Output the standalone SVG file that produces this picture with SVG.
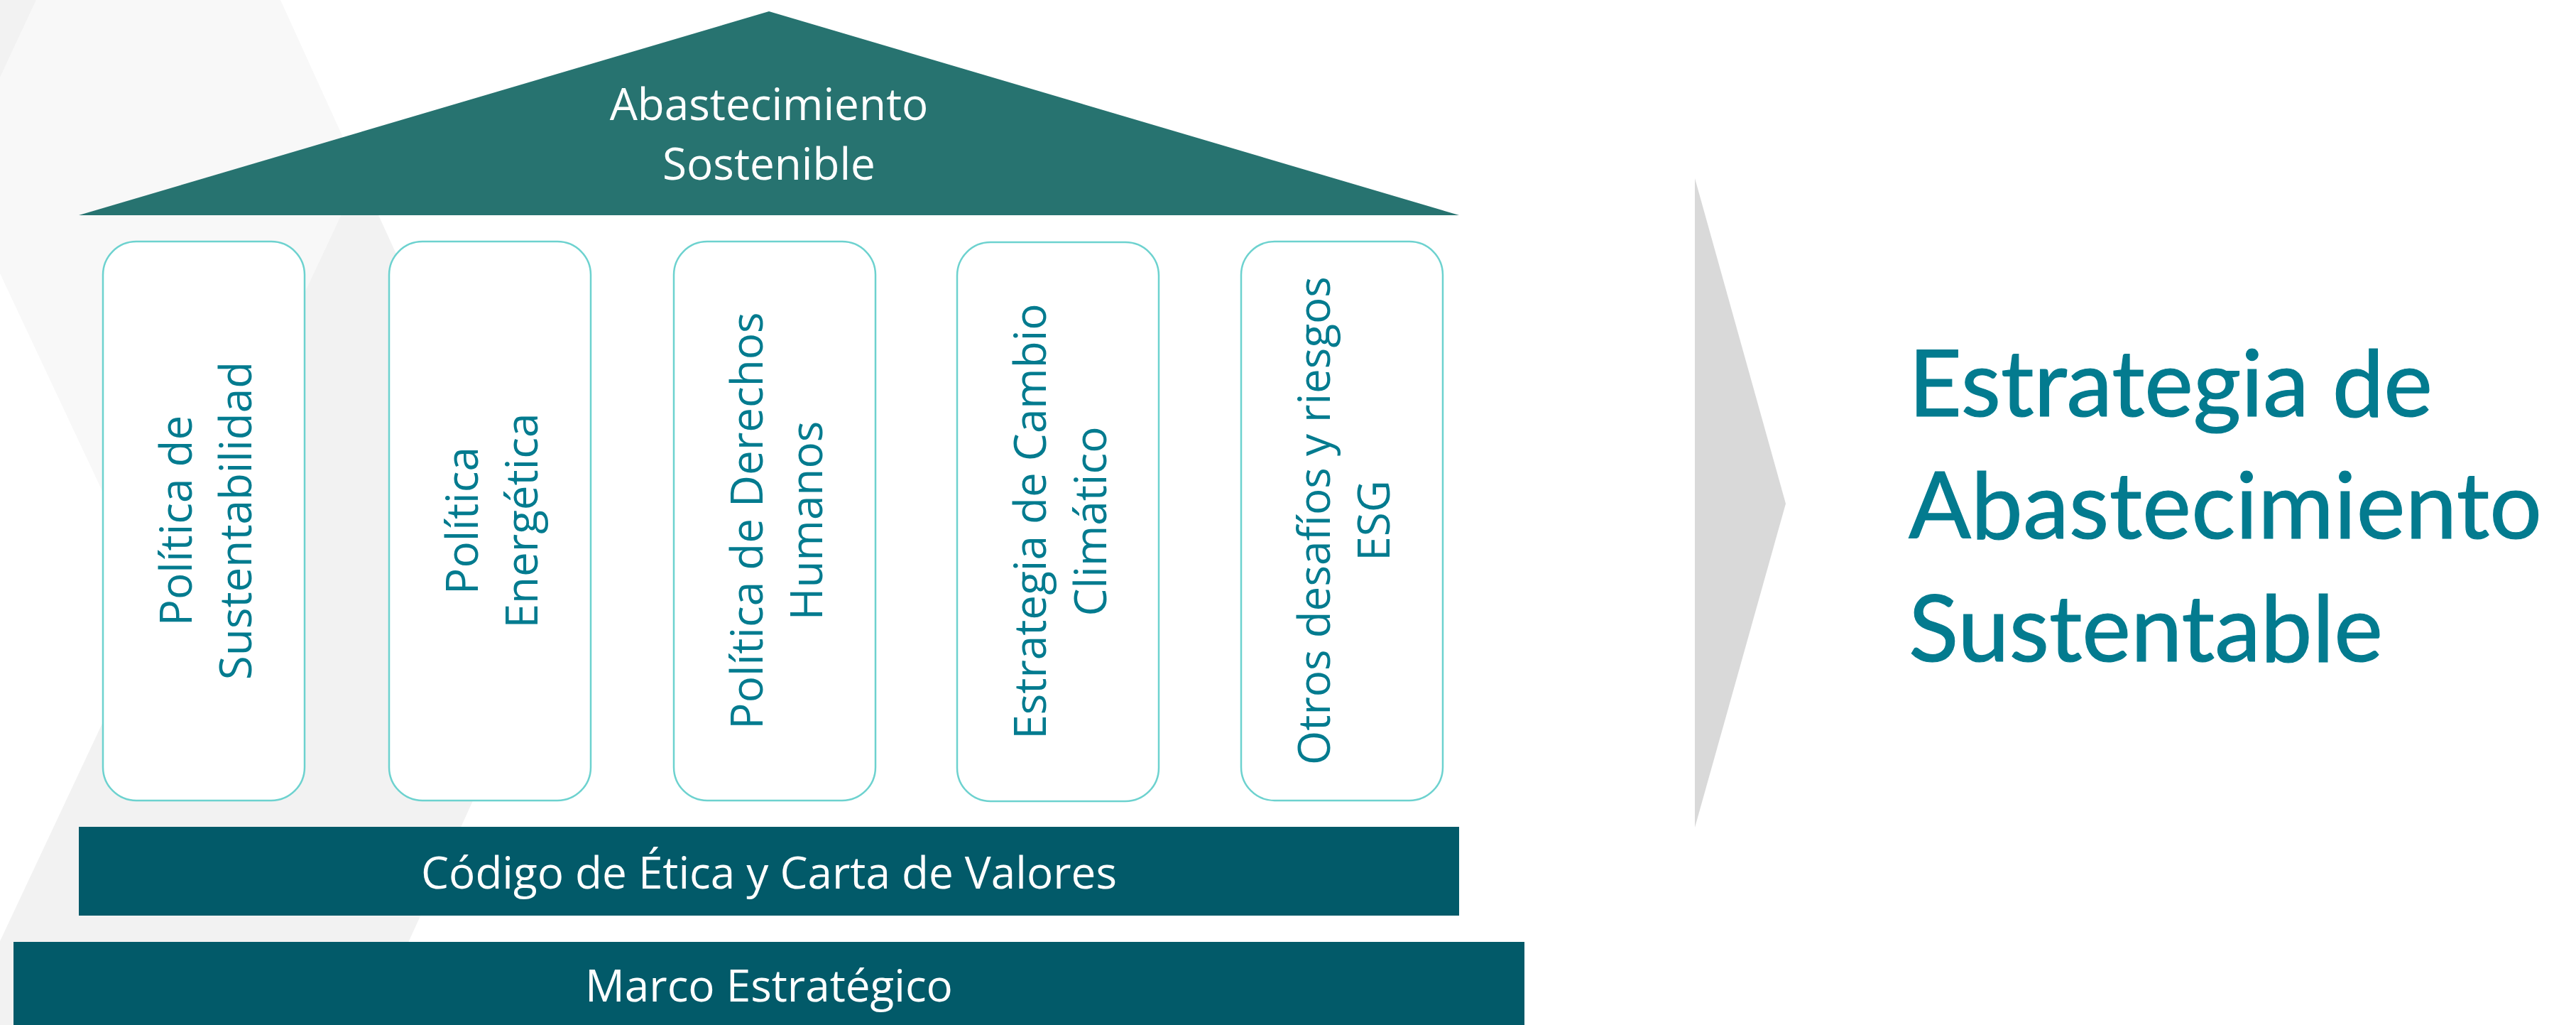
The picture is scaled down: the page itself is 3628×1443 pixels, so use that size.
<svg xmlns="http://www.w3.org/2000/svg" width="3628" height="1443" viewBox="0 0 3628 1443">
  <style>
    .pillar { fill: #FFFFFF; stroke: #6DD2CF; stroke-width: 2.5; }
    .ptext { font-family: "Open Sans", "Liberation Sans", sans-serif; font-size: 62px; fill: #037B8F; text-anchor: middle; }
    .wtext { font-family: "Open Sans", "Liberation Sans", sans-serif; font-size: 62px; fill: #FFFFFF; text-anchor: middle; }
    .bar { fill: #025A69; }
    .title { font-family: "Lato", "Liberation Sans", sans-serif; font-size: 130px; fill: #037B8F; stroke: #037B8F; stroke-width: 1.2; }
  </style>
  <rect x="0" y="0" width="3628" height="1443" fill="#FFFFFF"/>
  <g id="background">
    <polygon points="0,109 51,0 395,0 507,246 221,855 0,385" fill="#F8F8F8"/>
    <polygon points="0,0 51,0 0,109" fill="#F2F2F2"/>
    <polygon points="507,246 788,860 522,1443 0,1443 0,1325" fill="#F2F2F2"/>
  </g>
  <g id="connectors">
    <polygon points="2387,251 2515,709 2387,1165" fill="#D9D9D9"/>
  </g>
  <g id="roof">
    <polygon points="111,303 1083,16 2055,303" fill="#277370"/>
    <text class="wtext" x="1083" y="169">Abastecimiento</text>
    <text class="wtext" x="1083" y="253">Sostenible</text>
  </g>
  <g id="pillar1">
    <rect class="pillar" x="145" y="340" width="284" height="787" rx="47" ry="47"/>
    <g transform="translate(287,733) rotate(-90)">
      <text class="ptext" x="0" y="-17">Política de</text>
      <text class="ptext" x="0" y="67">Sustentabilidad</text>
    </g>
  </g>
  <g id="pillar2">
    <rect class="pillar" x="548" y="340" width="284" height="787" rx="47" ry="47"/>
    <g transform="translate(690,733) rotate(-90)">
      <text class="ptext" x="0" y="-17">Política</text>
      <text class="ptext" x="0" y="67">Energética</text>
    </g>
  </g>
  <g id="pillar3">
    <rect class="pillar" x="949" y="340" width="284" height="787" rx="47" ry="47"/>
    <g transform="translate(1091,733) rotate(-90)">
      <text class="ptext" x="0" y="-17">Política de Derechos</text>
      <text class="ptext" x="0" y="67">Humanos</text>
    </g>
  </g>
  <g id="pillar4">
    <rect class="pillar" x="1348" y="341" width="284" height="787" rx="47" ry="47"/>
    <g transform="translate(1490,734) rotate(-90)">
      <text class="ptext" x="0" y="-17">Estrategia de Cambio</text>
      <text class="ptext" x="0" y="68">Climático</text>
    </g>
  </g>
  <g id="pillar5">
    <rect class="pillar" x="1748" y="340" width="284" height="787" rx="47" ry="47"/>
    <g transform="translate(1890,733) rotate(-90)">
      <text class="ptext" x="0" y="-17">Otros desafíos y riesgos</text>
      <text class="ptext" x="0" y="67">ESG</text>
    </g>
  </g>
  <g id="codigo">
    <rect class="bar" x="111" y="1164" width="1944" height="125"/>
    <text class="wtext" x="1083" y="1251">Código de Ética y Carta de Valores</text>
  </g>
  <g id="marco">
    <rect class="bar" x="19" y="1326" width="2128" height="117"/>
    <text class="wtext" x="1083" y="1410">Marco Estratégico</text>
  </g>
  <g id="title">
    <text class="title" x="2688" y="586" textLength="738">Estrategia de</text>
    <text class="title" x="2688" y="758" textLength="892">Abastecimiento</text>
    <text class="title" x="2688" y="931" textLength="668">Sustentable</text>
  </g>
</svg>
